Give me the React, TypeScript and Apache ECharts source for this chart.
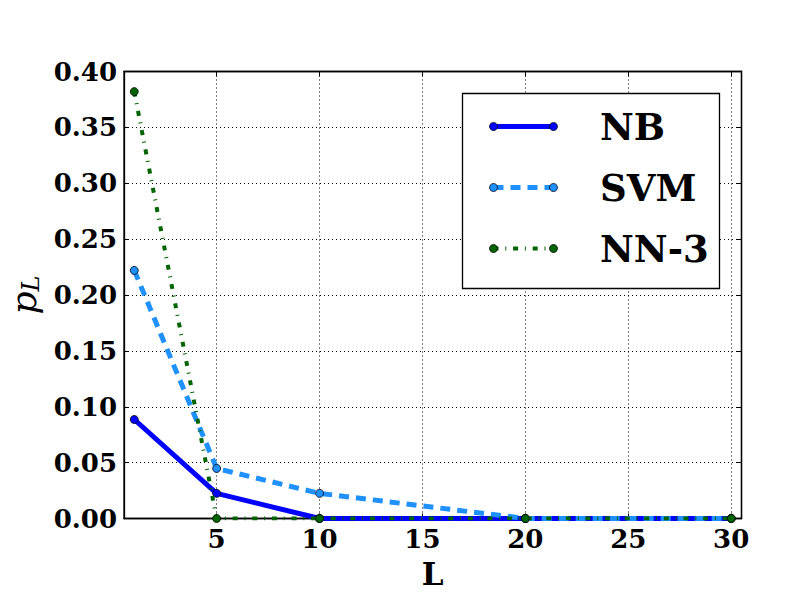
import React, { useEffect, useRef } from "react";
import * as echarts from "echarts";

const xValues = [1, 5, 10, 20, 30];
const seriesNames = ["NB", "SVM", "NN-3"];
const nbValues = [0.0886, 0.0225, 0, 0, 0];
const svmValues = [0.222, 0.0448, 0.0225, 0, 0];
const nn3Values = [0.382, 0, 0, 0, 0];
const xTicks = [5, 10, 15, 20, 25, 30];
const seriesColors = ["#0000ff", "#1e90ff", "#006400"];
const seriesWidths = [5, 5, 4];
const seriesDashes: (number[] | "solid")[] = ["solid", [10, 7], [5, 6.8, 1, 6.8]];

const SERIF = "DejaVu Serif";

export default function App() {
  const ref = useRef<HTMLDivElement>(null);
  useEffect(() => {
    if (!ref.current) return;
    const chart = echarts.init(ref.current, undefined, { renderer: "svg" });
    const valuesList = [nbValues, svmValues, nn3Values];

    const series = seriesNames.map((name, i) => ({
      name,
      type: "line",
      data: xValues.map((x, j) => [x, valuesList[i][j]]),
      symbol: "circle",
      symbolSize: 8,
      showAllSymbol: true,
      clip: true,
      z: 2 + i,
      lineStyle: { color: seriesColors[i], width: seriesWidths[i], type: seriesDashes[i], cap: "butt" },
      itemStyle: { color: seriesColors[i], borderColor: "#000", borderWidth: 0.8 },
    }));

    // legend drawn as graphic
    const lx0 = 462.5, ly0 = 93.5, lw = 257, lh = 195;
    const rowY = [126.5, 187.5, 248.5];
    const legendEls: any[] = [
      {
        type: "rect",
        shape: { x: lx0, y: ly0, width: lw, height: lh },
        style: { fill: "#fff", stroke: "#000", lineWidth: 1.3 },
        z: 100,
      },
    ];
    seriesNames.forEach((name, i) => {
      legendEls.push({
        type: "line",
        shape: { x1: 493.5, y1: rowY[i], x2: 553.5, y2: rowY[i] },
        style: {
          stroke: seriesColors[i],
          lineWidth: seriesWidths[i],
          lineDash: seriesDashes[i] === "solid" ? null : (seriesDashes[i] as number[]),
        },
        z: 101,
      });
      [493.5, 553.5].forEach((cx) =>
        legendEls.push({
          type: "circle",
          shape: { cx, cy: rowY[i], r: 4 },
          style: { fill: seriesColors[i], stroke: "#000", lineWidth: 0.8 },
          z: 102,
        })
      );
      legendEls.push({
        type: "text",
        x: 600,
        y: rowY[i],
        style: {
          text: name,
          fontFamily: SERIF,
          fontWeight: "bold",
          fontSize: 37,
          fill: "#000",
          verticalAlign: "middle",
          align: "left",
        },
        z: 102,
      });
    });

    const gridLine = { show: true, lineStyle: { color: "#000", width: 1, type: [1, 3] } };

    chart.setOption({
      animation: false,
      backgroundColor: "#fff",
      grid: {
        left: 124,
        top: 71.5,
        right: 70.5,
        bottom: 93.5,
        containLabel: false,
        outerBoundsMode: "none",
        show: true,
        borderColor: "#000",
        borderWidth: 1.3,
        backgroundColor: "#fff",
      },
      xAxis: [
        {
          type: "value",
          min: 0.5,
          max: 30.5,
          position: "bottom",
          name: "L",
          nameLocation: "middle",
          nameGap: 40,
          nameTextStyle: { fontFamily: SERIF, fontWeight: "bold", fontSize: 31, color: "#000" },
          axisLine: { show: true, onZero: false, lineStyle: { color: "#000", width: 1.3 } },
          axisTick: { show: true, inside: true, length: 5, customValues: xTicks, lineStyle: { color: "#000", width: 1 } },
          axisLabel: {
            show: true,
            customValues: xTicks,
            margin: 7,
            fontFamily: SERIF,
            fontWeight: "bold",
            fontSize: 26,
            color: "#000",
          },
          splitLine: gridLine,
        },
        {
          type: "value",
          min: 0.5,
          max: 30.5,
          position: "top",
          axisLine: { show: true, onZero: false, lineStyle: { color: "#000", width: 1.3 } },
          axisTick: { show: true, inside: true, length: 5, customValues: xTicks, lineStyle: { color: "#000", width: 1 } },
          axisLabel: { show: false, customValues: xTicks },
          splitLine: { show: false },
        },
      ],
      yAxis: [
        {
          type: "value",
          min: 0,
          max: 0.4,
          interval: 0.05,
          position: "left",
          name: "{p|p}{s|L}",
          nameLocation: "middle",
          nameGap: 72,
          nameTextStyle: {
            rich: {
              p: { fontFamily: SERIF, fontStyle: "italic", fontSize: 36, color: "#000" },
              s: { fontFamily: SERIF, fontStyle: "italic", fontSize: 24, color: "#000", padding: [14, 0, 0, 0] },
            },
          },
          axisLine: { show: true, onZero: false, lineStyle: { color: "#000", width: 1.3 } },
          axisTick: { show: true, inside: true, length: 5, lineStyle: { color: "#000", width: 1 } },
          axisLabel: {
            show: true,
            margin: 7,
            fontFamily: SERIF,
            fontWeight: "bold",
            fontSize: 26,
            color: "#000",
            formatter: (v: number) => v.toFixed(2),
          },
          splitLine: gridLine,
        },
        {
          type: "value",
          min: 0,
          max: 0.4,
          interval: 0.05,
          position: "right",
          axisLine: { show: true, onZero: false, lineStyle: { color: "#000", width: 1.3 } },
          axisTick: { show: true, inside: true, length: 5, lineStyle: { color: "#000", width: 1 } },
          axisLabel: { show: false },
          splitLine: { show: false },
        },
      ],
      series,
      graphic: legendEls,
    });
    return () => chart.dispose();
  }, []);
  return (
    <div
      ref={ref}
      style={{ position: "fixed", left: 0, top: 0, width: 812, height: 612 }}
    />
  );
}
